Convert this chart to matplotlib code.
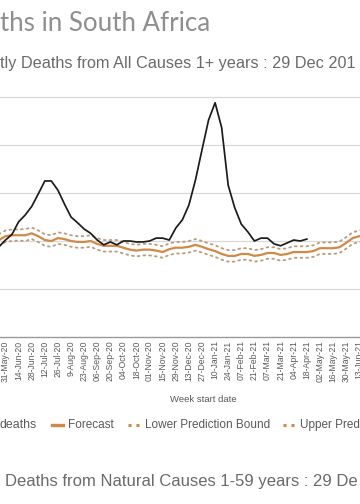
import matplotlib
matplotlib.use("Agg")
import matplotlib.pyplot as plt
from matplotlib.lines import Line2D

# ---------------- data ----------------
weeks = list(range(-1, 56))          # week index, 0 = 31-May-20
actual_weeks = list(range(-1, 47))
actual = [9400, 10100, 10700, 12000, 12700, 13600, 14900, 16250, 16250, 15300,
          13850, 12500, 11900, 11250, 10800, 10100, 9600, 9900, 9600, 10000,
          10000, 9900, 9900, 10000, 10300, 10300, 10100, 11350, 12200, 13750,
          16350, 19500, 22600, 24400, 21800, 15800, 13450, 11750, 10950, 10000,
          10300, 10300, 9700, 9500, 9800, 10100, 10000, 10200]
forecast = [10100, 10500, 10600, 10600, 10600, 10800, 10500, 10100, 10000, 10300,
            10200, 10000, 9900, 9900, 10000, 9700, 9500, 9500, 9500, 9300,
            9100, 9000, 9100, 9100, 9000, 8850, 9150, 9300, 9300, 9400,
            9600, 9400, 9150, 8950, 8650, 8450, 8450, 8650, 8650, 8450,
            8550, 8750, 8750, 8550, 8650, 8850, 8850, 8850, 8950, 9250,
            9250, 9250, 9350, 9800, 10300, 10500, 10600]
lower = [9500, 9900, 10000, 10050, 10000, 10200, 9900, 9500, 9400, 9700,
         9600, 9400, 9300, 9300, 9400, 9100, 8900, 8900, 8900, 8700,
         8500, 8400, 8500, 8500, 8400, 8250, 8550, 8700, 8700, 8800,
         9000, 8800, 8550, 8350, 8050, 7850, 7850, 8050, 8050, 7850,
         7950, 8150, 8150, 7950, 8050, 8250, 8250, 8250, 8350, 8650,
         8650, 8650, 8750, 9200, 9700, 9900, 10000]
upper = [10700, 11100, 11200, 11200, 11250, 11400, 11100, 10700, 10600, 10900,
         10800, 10600, 10500, 10500, 10600, 10300, 10100, 10100, 10100, 9900,
         9700, 9600, 9700, 9700, 9600, 9450, 9750, 9900, 9900, 10000,
         10200, 10000, 9750, 9550, 9250, 9050, 9050, 9250, 9250, 9050,
         9150, 9350, 9350, 9150, 9250, 9450, 9450, 9450, 9550, 9850,
         9850, 9850, 9950, 10400, 10900, 11100, 11200]
tick_weeks = list(range(0, 55, 2))
tick_labels = ["31-May-20", "14-Jun-20", "28-Jun-20", "12-Jul-20", "26-Jul-20",
               "9-Aug-20", "23-Aug-20", "06-Sep-20", "20-Sep-20", "04-Oct-20",
               "18-Oct-20", "01-Nov-20", "15-Nov-20", "29-Nov-20", "13-Dec-20",
               "27-Dec-20", "10-Jan-21", "24-Jan-21", "07-Feb-21", "21-Feb-21",
               "07-Mar-21", "21-Mar-21", "04-Apr-21", "18-Apr-21", "02-May-21",
               "16-May-21", "30-May-21", "13-Jun-21"]
y_grid = [5000, 10000, 15000, 20000, 25000]

# ---------------- styles ----------------
W, H = 360, 504
C_ACT = "#1c1c1c"
C_FC = "#D08A45"
C_BOUND = "#B89C7E"
C_TXT = "#595959"
SANS = ["Liberation Sans", "DejaVu Sans"]

fig = plt.figure(figsize=(W / 100, H / 100), dpi=100)
fig.patch.set_facecolor("white")


def fx(x):
    return x / W


def fy(y):
    return 1 - y / H


# axes: bottom at y=337 px, top at y=95 px
ax_top, ax_bot = 95, 337
ax = fig.add_axes([0, fy(ax_bot), 1, (ax_bot - ax_top) / H])
ymax = 25000 * (ax_bot - ax_top) / (ax_bot - 97)
ax.set_ylim(0, ymax)
ax.set_xlim(-0.84, 54.12)

ax.plot(weeks, upper, color=C_BOUND, lw=1.3, ls=(0, (1, 2.2)),
        dash_capstyle="round")
ax.plot(weeks, lower, color=C_BOUND, lw=1.3, ls=(0, (1, 2.2)),
        dash_capstyle="round")
ax.plot(weeks, forecast, color=C_FC, lw=1.6)
ax.plot(actual_weeks, actual, color=C_ACT, lw=1.25)

ax.set_yticks(y_grid)
ax.yaxis.grid(True, color="#d9d9d9", lw=0.9)
ax.set_axisbelow(True)
ax.tick_params(axis="y", left=False, labelleft=False)
for s in ["left", "right", "top"]:
    ax.spines[s].set_visible(False)
ax.spines["bottom"].set_color("#9a9a9a")
ax.spines["bottom"].set_linewidth(1.0)

ax.set_xticks(tick_weeks)
ax.set_xticklabels(tick_labels, rotation=90, fontsize=6.2, color=C_TXT,
                   family=SANS)
ax.tick_params(axis="x", length=0, pad=2.5)

# ---------------- texts ----------------
fig.text(fx(0), fy(31), "ths in South Africa", ha="left", va="baseline",
         fontsize=18.6, color="#8f8f8f", family=["Lato", "DejaVu Sans"])
fig.text(fx(0), fy(68), "tly Deaths from All Causes 1+ years : 29 Dec 201",
         ha="left", va="baseline", fontsize=11.7, color="#6a6a6a", family=SANS)
fig.text(fx(203), fy(400), "Week start date", ha="center", va="center",
         fontsize=6.8, color=C_TXT, family=SANS)
fig.text(fx(5), fy(486), "Deaths from Natural Causes 1-59 years : 29 De",
         ha="left", va="baseline", fontsize=12.0, color="#6a6a6a", family=SANS)

# ---------------- legend (cropped row) ----------------
ly = 425
fig.text(fx(0), fy(ly), "deaths", ha="left", va="center", fontsize=8.9,
         color=C_TXT, family=SANS)
fig.add_artist(Line2D([fx(52), fx(63)], [fy(ly), fy(ly)], color=C_FC, lw=2.4,
                      transform=fig.transFigure))
fig.text(fx(68), fy(ly), "Forecast", ha="left", va="center", fontsize=8.5,
         color=C_TXT, family=SANS)
fig.add_artist(Line2D([fx(128), fx(139)], [fy(ly), fy(ly)], color=C_FC, lw=2.2,
                      ls=(0, (1, 1.6)), transform=fig.transFigure))
fig.text(fx(145), fy(ly), "Lower Prediction Bound", ha="left", va="center",
         fontsize=8.5, color=C_TXT, family=SANS)
fig.add_artist(Line2D([fx(283), fx(294)], [fy(ly), fy(ly)], color=C_FC, lw=2.2,
                      ls=(0, (1, 1.6)), transform=fig.transFigure))
fig.text(fx(300), fy(ly), "Upper Pred", ha="left", va="center", fontsize=8.5,
         color=C_TXT, family=SANS)

fig.savefig("out.png", dpi=100)
